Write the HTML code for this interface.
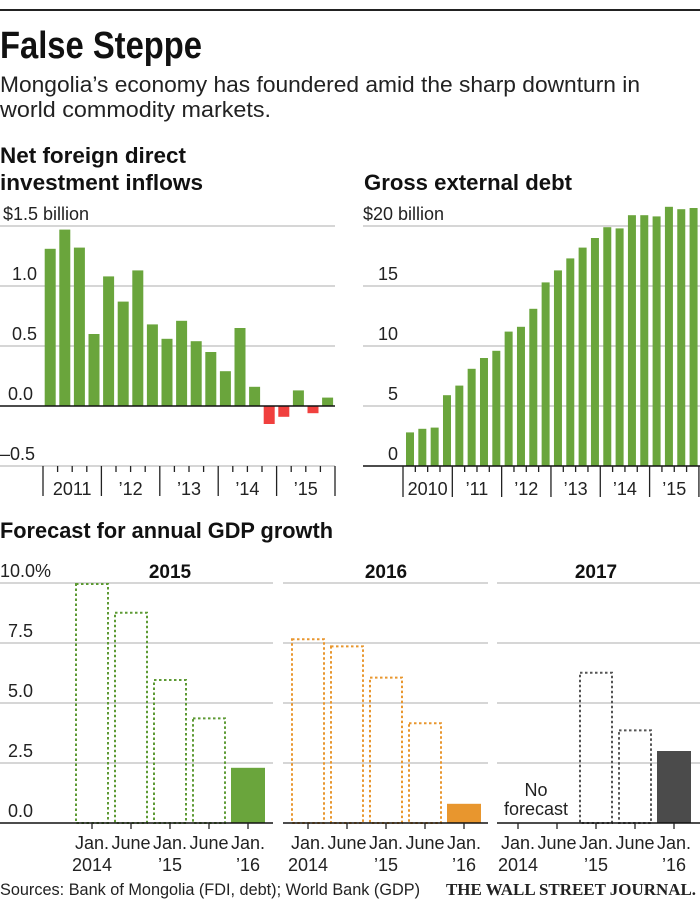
<!DOCTYPE html>
<html><head><meta charset="utf-8">
<style>
html,body{margin:0;padding:0;background:#fff;}
svg{display:block;font-family:"Liberation Sans Narrow","Liberation Sans",sans-serif;}
</style></head>
<body>
<svg id="c" width="700" height="909" viewBox="0 0 700 909">
<rect x="0" y="9" width="700" height="2" fill="#222"/>
<text x="0" y="58" font-size="38" font-weight="bold" fill="#111" textLength="202" lengthAdjust="spacingAndGlyphs">False Steppe</text>
<text x="0" y="92" font-size="22" fill="#222" textLength="640" lengthAdjust="spacingAndGlyphs">Mongolia’s economy has foundered amid the sharp downturn in</text>
<text x="0" y="117" font-size="22" fill="#222" textLength="271" lengthAdjust="spacingAndGlyphs">world commodity markets.</text>
<text x="0" y="163" font-size="22" font-weight="bold" fill="#111" textLength="186" lengthAdjust="spacingAndGlyphs">Net foreign direct</text>
<text x="0" y="190" font-size="22" font-weight="bold" fill="#111" textLength="203" lengthAdjust="spacingAndGlyphs">investment inflows</text>
<text x="364" y="190" font-size="22" font-weight="bold" fill="#111" textLength="208" lengthAdjust="spacingAndGlyphs">Gross external debt</text>
<text x="0" y="538" font-size="22" font-weight="bold" fill="#111" textLength="333" lengthAdjust="spacingAndGlyphs">Forecast for annual GDP growth</text>
<text x="0" y="895" font-size="17" fill="#222" textLength="420" lengthAdjust="spacingAndGlyphs">Sources: Bank of Mongolia (FDI, debt); World Bank (GDP)</text>
<text x="446" y="895" font-size="17" font-weight="bold" fill="#222" textLength="250" lengthAdjust="spacingAndGlyphs" style="font-family:'Liberation Serif',serif">THE WALL STREET JOURNAL.</text>
<g id="fdi"></g>
<g id="debt"></g>
<g id="gdp"></g>
</svg>
<script>
// FDI data (quarterly, 2011 Q1 - 2015 Q4), $ billion
const fdiValues = [1.31,1.47,1.32,0.60,1.08,0.87,1.13,0.68,0.56,0.71,0.54,0.45,0.29,0.65,0.16,-0.15,-0.09,0.13,-0.06,0.07];
const fdiTicks = [1.5,1.0,0.5,0.0,-0.5];
const fdiTickLabels = ["$1.5 billion","1.0","0.5","0.0","\u20130.5"];
const fdiYears = ["2011","\u201912","\u201913","\u201914","\u201915"];
// Debt data (quarterly, 2010 Q1 - 2015 Q4), $ billion
const debtValues = [2.8,3.1,3.2,5.9,6.7,8.1,9.0,9.6,11.2,11.6,13.1,15.3,16.3,17.3,18.2,19.0,19.9,19.8,20.9,20.9,20.8,21.6,21.4,21.5];
const debtTicks = [20,15,10,5,0];
const debtTickLabels = ["$20 billion","15","10","5","0"];
const debtYears = ["2010","\u201911","\u201912","\u201913","\u201914","\u201915"];
// GDP forecasts
const gdpPanels = ["2015","2016","2017"];
const gdp2015 = [10.0,8.8,6.0,4.4,2.3];
const gdp2016 = [7.7,7.4,6.1,4.2,0.8];
const gdp2017 = [null,null,6.3,3.9,3.0];
const gdpTicks = [10,7.5,5,2.5,0];
const gdpTickLabels = ["10.0%","7.5","5.0","2.5","0.0"];
const gdpXTop = ["Jan.","June","Jan.","June","Jan."];
const gdpXBottom = ["2014","","\u201915","","\u201916"];

const NS="http://www.w3.org/2000/svg";
function mk(parent,tag,attrs,text){const e=document.createElementNS(NS,tag);for(const k in attrs)e.setAttribute(k,attrs[k]);if(text!==undefined)e.textContent=text;parent.appendChild(e);return e;}
const GREEN="#6aa53c",RED="#f0403e",ORANGE="#e8962e",DARK="#4b4b4b",GRID="#bdbdbd";

// ---- FDI ----
(function(){
const g=document.getElementById('fdi');
const y=v=>406-v*120;
const x0=44.7,pitch=14.6,bw=11;
fdiTicks.forEach((t,i)=>{
  if(t!==0){const l=mk(g,'line',{x1:0,x2:335,y1:y(t),y2:y(t),stroke:GRID,'stroke-width':1.3});
  
  }
  const tx=mk(g,'text',{x:i==0?3:(t<0?0:(t==0?8:12)),y:y(t)-6,'font-size':18,fill:'#222'},fdiTickLabels[i]);
  
  
});
fdiValues.forEach((v,i)=>{
  const r=mk(g,'rect',{x:x0+i*pitch,width:bw,y:Math.min(y(v),y(0)),height:Math.abs(y(v)-y(0)),fill:v>=0?GREEN:RED});
  
  
});
const z=mk(g,'line',{x1:0,x2:335,y1:y(0),y2:y(0),stroke:'#111','stroke-width':1.6});


const yp=pitch*4;
for(let k=0;k<=fdiYears.length;k++){
  const sx=43+k*yp;
  const s=mk(g,'line',{x1:sx,x2:sx,y1:466,y2:496,stroke:'#222','stroke-width':1.3});
  
  
  if(k<fdiYears.length){
    for(let m=1;m<4;m++){const t=mk(g,'line',{x1:sx+m*pitch,x2:sx+m*pitch,y1:466,y2:472,stroke:'#222','stroke-width':1.3});
    
    }
    const lb=mk(g,'text',{x:sx+yp/2,y:495,'font-size':18,'text-anchor':'middle',fill:'#222'},fdiYears[k]);
    
    
  }
}
})();

// ---- Debt ----
(function(){
const g=document.getElementById('debt');
const y=v=>466-v*12;
const x0=406,pitch=12.33,bw=8;
debtTicks.forEach((t,i)=>{
  if(t!==0){const l=mk(g,'line',{x1:363,x2:700,y1:y(t),y2:y(t),stroke:GRID,'stroke-width':1.3});
  
  }
  const tx=mk(g,'text',i==0?{x:363,y:y(t)-6,'font-size':18,fill:'#222'}:{x:398,y:y(t)-6,'font-size':18,fill:'#222','text-anchor':'end'},debtTickLabels[i]);
  
  
});
debtValues.forEach((v,i)=>{
  const r=mk(g,'rect',{x:x0+i*pitch,width:bw,y:y(v),height:y(0)-y(v),fill:GREEN});
  
  
});
const z=mk(g,'line',{x1:363,x2:700,y1:466,y2:466,stroke:'#111','stroke-width':1.6});


const yp=pitch*4;
for(let k=0;k<=debtYears.length;k++){
  const sx=403+k*yp;
  const s=mk(g,'line',{x1:sx,x2:sx,y1:466,y2:497,stroke:'#222','stroke-width':1.3});
  
  
  if(k<debtYears.length){
    for(let m=1;m<4;m++){const t=mk(g,'line',{x1:sx+m*pitch,x2:sx+m*pitch,y1:466,y2:472,stroke:'#222','stroke-width':1.3});
    
    }
    const lb=mk(g,'text',{x:sx+yp/2,y:495,'font-size':18,'text-anchor':'middle',fill:'#222'},debtYears[k]);
    
    
  }
}
})();

// ---- GDP ----
(function(){
const g=document.getElementById('gdp');
const y=v=>823-v*24;
const panels=[{s:0,e:273,b:75,data:gdp2015,col:'#5d9a34',solid:GREEN},
              {s:283,e:488,b:291,data:gdp2016,col:ORANGE,solid:ORANGE},
              {s:497,e:700,b:501,data:gdp2017,col:'#555',solid:DARK}];
const pitch=39,bw=34;
gdpTicks.forEach((t,i)=>{
  const tx=mk(g,'text',{x:i==0?0:8,y:y(t)-6,'font-size':18,fill:'#222'},gdpTickLabels[i]);
  
  
});
panels.forEach((p,pi)=>{
  gdpTicks.forEach(t=>{
    if(t===0)return;
    const l=mk(g,'line',{x1:p.s,x2:p.e,y1:y(t),y2:y(t),stroke:GRID,'stroke-width':1.3});
    
    
  });
  const title=mk(g,'text',{x:p.b+2*pitch+bw/2,y:578,'font-size':19,'font-weight':'bold','text-anchor':'middle',fill:'#111'},gdpPanels[pi]);
  
  
  p.data.forEach((v,i)=>{
    if(v===null)return;
    const bx=p.b+i*pitch;
    let r;
    if(i===p.data.length-1){
      r=mk(g,'rect',{x:bx,y:y(v),width:bw,height:y(0)-y(v),fill:p.solid});
    }else{
      r=mk(g,'rect',{x:bx+1,y:y(v)+1,width:bw-2,height:y(0)-y(v)-1,fill:'none',stroke:p.col,'stroke-width':2,'stroke-dasharray':'2.5,2.5'});
    }
    
    
  });
  const ax=mk(g,'line',{x1:p.s,x2:p.e,y1:823,y2:823,stroke:'#111','stroke-width':1.6});
  
  
  gdpXTop.forEach((lab,i)=>{
    const cx=p.b+i*pitch+bw/2;
    const t=mk(g,'line',{x1:cx,x2:cx,y1:823,y2:829,stroke:'#222','stroke-width':1.3});
    
    
    const a=mk(g,'text',{x:cx,y:849,'font-size':18,'text-anchor':'middle',fill:'#222'},lab);
    
    
    if(gdpXBottom[i]){
      const b=mk(g,'text',{x:cx,y:871,'font-size':18,'text-anchor':'middle',fill:'#222'},gdpXBottom[i]);
      
      
    }
  });
});
const n1=mk(g,'text',{x:536,y:796,'font-size':18,'text-anchor':'middle',fill:'#222'},'No');


const n2=mk(g,'text',{x:536,y:815,'font-size':18,'text-anchor':'middle',fill:'#222'},'forecast');


})();
</script>
</body></html>
